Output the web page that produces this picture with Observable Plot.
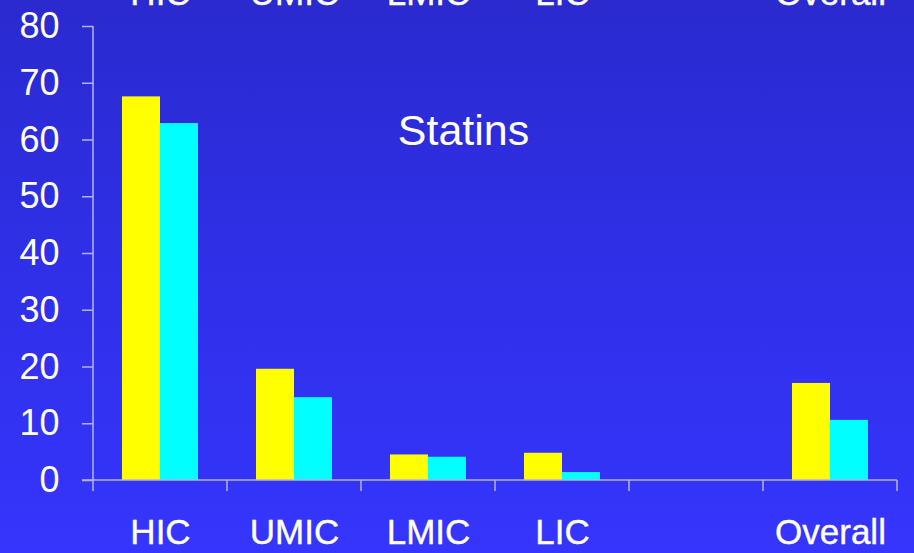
<!DOCTYPE html>
<html>
<head>
<meta charset="utf-8">
<script src="https://cdn.jsdelivr.net/npm/d3@7"></script>
<script src="https://cdn.jsdelivr.net/npm/@observablehq/plot@0.6"></script>
<style>
  html, body { margin: 0; padding: 0; width: 914px; height: 553px; overflow: hidden;
    background: linear-gradient(to bottom, #2a2acf 0%, #2f2fe6 45%, #3535fd 100%); }
  #chart svg { display: block; }
</style>
</head>
<body>
<div id="chart"></div>
<script>
// ---- data ----
const slots = ["HIC", "UMIC", "LMIC", "LIC", " ", "Overall"];
const categories = ["HIC", "UMIC", "LMIC", "LIC", "Overall"];
const series = ["Series 1", "Series 2"];
const series1 = [67.6, 19.6, 4.5, 4.8, 17.1];
const series2 = [62.9, 14.6, 4.1, 1.4, 10.6];
const yTicks = [0, 10, 20, 30, 40, 50, 60, 70, 80];
const title = "Statins";

const rows = [];
categories.forEach((c, i) => {
  rows.push({cat: c, series: series[0], value: series1[i]});
  rows.push({cat: c, series: series[1], value: series2[i]});
});

const font = "Arial, 'Liberation Sans', sans-serif";
const axisColor = "#b3b3f2";

const plot = Plot.plot({
  width: 914,
  height: 553,
  marginLeft: 91,
  marginRight: 16,
  marginTop: 26,
  marginBottom: 73,
  style: {background: "transparent", fontFamily: font, overflow: "visible"},
  fx: {domain: slots, padding: 0, axis: null},
  x: {domain: series, paddingInner: 0, paddingOuter: 0.75, axis: null},
  y: {domain: [0, 80], axis: null},
  color: {domain: series, range: ["#ffff00", "#00ffff"]},
  marks: [
    Plot.barY(rows, {fx: "cat", x: "series", y: "value", fill: "series"}),
    Plot.axisY({ticks: yTicks, tickSize: 11, tickPadding: 23, stroke: axisColor, strokeWidth: 1.5,
      fill: "white", fontSize: 36, label: null, facetAnchor: "left"}),
    Plot.text(categories, {fx: d => d, text: d => d, frameAnchor: "bottom", dy: 63,
      fill: "white", fontSize: 35, stroke: "white", strokeWidth: 0.4}),
    Plot.text(categories, {fx: d => d, text: d => d, frameAnchor: "top", lineAnchor: "bottom", dy: -22,
      fill: "white", fontSize: 35, stroke: "white", strokeWidth: 0.4}),
    Plot.text([title], {fx: ["LMIC"], y: [61.5], text: d => d, dx: 35, fill: "white", fontSize: 43})
  ]
});

// axis lines and category boundary ticks drawn from Plot's own scales
const fx = plot.scale("fx");
const y = plot.scale("y");
const svg = d3.select(plot);
const y0 = y.apply(0), yTop = y.apply(80);
const left = fx.apply(slots[0]);
const right = fx.apply(slots[slots.length - 1]) + fx.bandwidth;
const g = svg.append("g").attr("stroke", axisColor).attr("stroke-width", 1.5);
g.append("line").attr("x1", left).attr("x2", left).attr("y1", yTop).attr("y2", y0 + 11);
g.append("line").attr("x1", left - 11).attr("x2", right).attr("y1", y0).attr("y2", y0);
slots.forEach(s => {
  const xb = fx.apply(s) + fx.bandwidth;
  g.append("line").attr("x1", xb).attr("x2", xb).attr("y1", y0).attr("y2", y0 + 11);
});

document.getElementById("chart").appendChild(plot);
</script>
</body>
</html>
